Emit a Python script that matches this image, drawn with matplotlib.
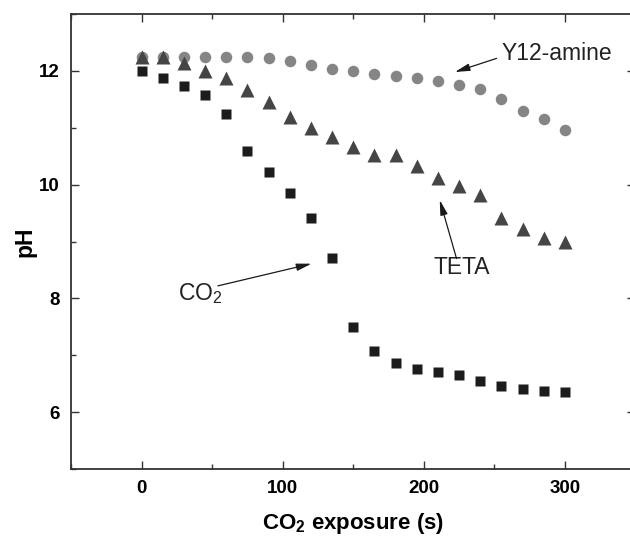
import matplotlib
matplotlib.use('Agg')
import matplotlib.pyplot as plt
from matplotlib.ticker import MultipleLocator

plt.rcParams['font.family'] = ['Liberation Sans', 'DejaVu Sans']
plt.rcParams['mathtext.fontset'] = 'custom'
plt.rcParams['mathtext.rm'] = 'Liberation Sans'
plt.rcParams['mathtext.it'] = 'Liberation Sans:italic'
plt.rcParams['mathtext.bf'] = 'Liberation Sans:bold'

# exposure time (s)
time = [0, 15, 30, 45, 60, 75, 90, 105, 120, 135, 150,
        165, 180, 195, 210, 225, 240, 255, 270, 285, 300]

# pH readings
ph_y12 = [12.25, 12.25, 12.25, 12.25, 12.25, 12.25, 12.22, 12.18, 12.10, 12.03, 12.00,
          11.94, 11.91, 11.87, 11.82, 11.76, 11.68, 11.50, 11.30, 11.15, 10.96]
ph_teta = [12.25, 12.25, 12.13, 12.00, 11.87, 11.66, 11.46, 11.19, 11.00, 10.83, 10.67,
           10.52, 10.52, 10.33, 10.11, 9.98, 9.81, 9.41, 9.22, 9.07, 8.99]
ph_co2 = [12.00, 11.88, 11.74, 11.57, 11.24, 10.60, 10.22, 9.86, 9.42, 8.71, 7.49,
          7.08, 6.87, 6.75, 6.70, 6.66, 6.55, 6.46, 6.40, 6.38, 6.35]

fig = plt.figure(figsize=(6.3, 5.37), dpi=100)
ax = fig.add_axes([0.1127, 0.1266, 0.8960, 0.8473])

ax.plot(time, ph_y12, 'o', color='#858585', ms=8.3, mec='none')
ax.plot(time, ph_teta, '^', color='#454545', ms=9.5, mec='none')
ax.plot(time, ph_co2, 's', color='#1c1c1c', ms=7.2, mec='none')

ax.set_xlim(-50, 350)
ax.set_ylim(5, 13)
ax.xaxis.set_major_locator(MultipleLocator(100))
ax.xaxis.set_minor_locator(MultipleLocator(50))
ax.yaxis.set_major_locator(MultipleLocator(2))
ax.yaxis.set_minor_locator(MultipleLocator(1))
ax.tick_params(which='both', direction='in', top=True, right=True,
               color='#333333', width=1.0)
ax.tick_params(which='major', length=6, labelsize=13.5, pad=8)
ax.tick_params(which='minor', length=3.5)
for lab in ax.get_xticklabels() + ax.get_yticklabels():
    lab.set_fontweight('bold')
for sp in ax.spines.values():
    sp.set_linewidth(1.3)
    sp.set_color('#333333')

ax.set_xlabel(r'CO$_\mathbf{2}$ exposure (s)', fontsize=16, fontweight='bold', labelpad=10)
ax.set_ylabel('pH', fontsize=16.5, fontweight='bold', labelpad=2)

arrow = dict(arrowstyle='-|>,head_length=0.9,head_width=0.22', color='#1a1a1a',
             lw=0.9, shrinkA=0, shrinkB=0)
ax.text(255, 12.3, 'Y12-amine', fontsize=16.5, ha='left', va='center', color='#222222')
ax.annotate('', xy=(222, 11.98), xytext=(251.6, 12.22), arrowprops=arrow)
ax.text(226.7, 8.55, 'TETA', fontsize=16.5, ha='center', va='center', color='#222222')
ax.annotate('', xy=(211.3, 9.73), xytext=(223.2, 8.7), arrowprops=arrow)
ax.text(25.5, 7.965, r'CO$_2$', fontsize=16.5, ha='left', va='baseline', color='#222222')
ax.annotate('', xy=(120.4, 8.61), xytext=(54.1, 8.22), arrowprops=arrow)

fig.savefig('out.png', dpi=100)
